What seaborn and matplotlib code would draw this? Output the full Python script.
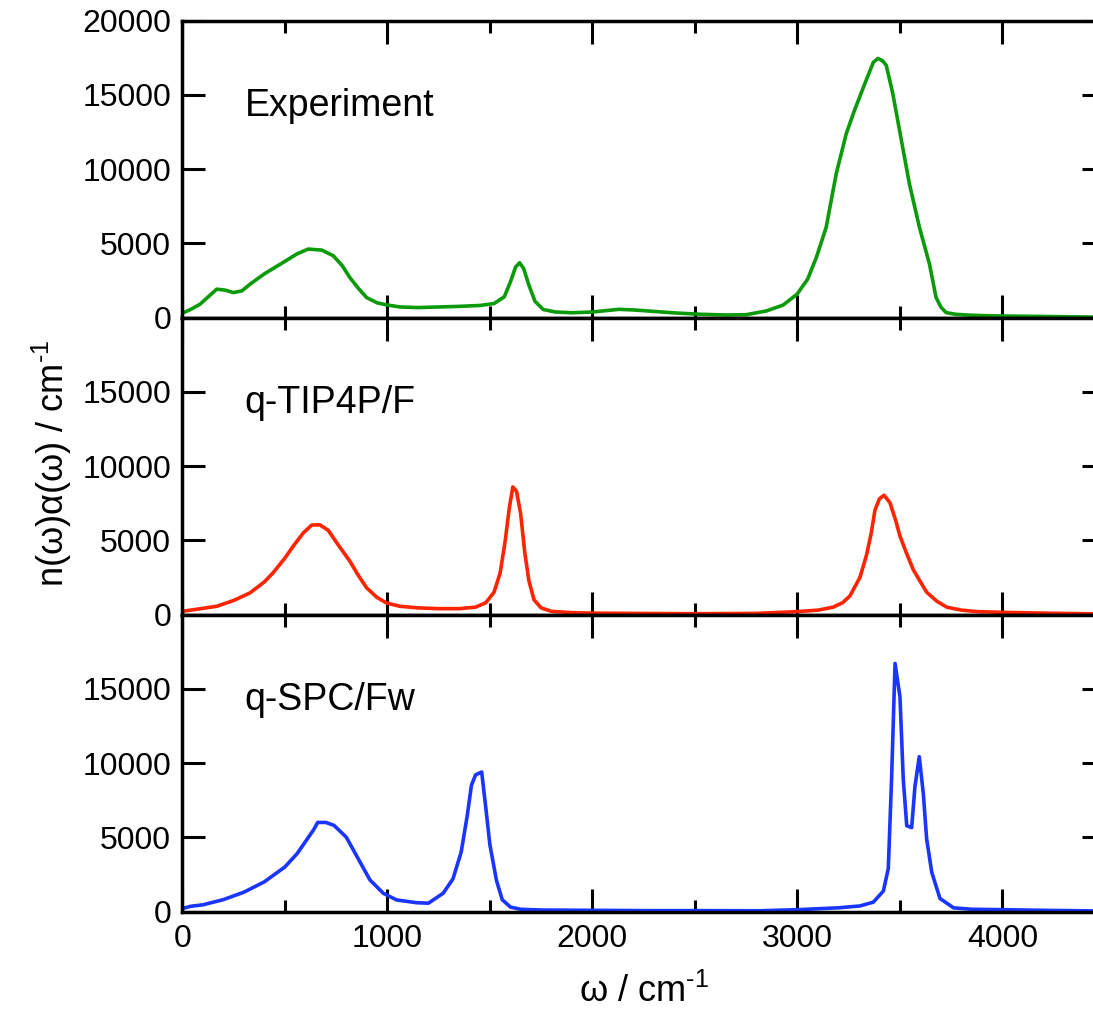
import matplotlib
matplotlib.use("Agg")
import pandas as pd
import seaborn as sns
import matplotlib.pyplot as plt
from matplotlib.ticker import MultipleLocator

# frequency (cm^-1) / intensity
exp_x = [0, 40, 86, 130, 168, 210, 249, 290, 330, 400,
         492, 560, 614, 680, 736, 780, 817, 860, 899, 950,
         996, 1061, 1150, 1250, 1350, 1450, 1520, 1570, 1600, 1625,
         1645, 1665, 1690, 1720, 1760, 1820, 1900, 2000, 2070, 2130,
         2200, 2300, 2400, 2523, 2650, 2750, 2848, 2930, 2998, 3050,
         3092, 3140, 3189, 3238, 3278, 3335, 3370, 3393, 3415, 3433,
         3465, 3498, 3546, 3595, 3644, 3676, 3700, 3725, 3770, 3822,
         3900, 4000, 4200, 4438, 4500]
exp_y = [300, 550, 900, 1450, 1920, 1850, 1690, 1800, 2250, 2950,
         3720, 4300, 4620, 4550, 4170, 3500, 2700, 1950, 1350, 1000,
         860, 720, 680, 720, 760, 820, 950, 1400, 2400, 3400,
         3700, 3300, 2200, 1100, 550, 380, 330, 380, 480, 560,
         520, 420, 320, 230, 180, 200, 450, 850, 1580, 2600,
         4050, 6080, 9690, 12390, 13960, 15990, 17200, 17460, 17300, 17000,
         15090, 12610, 9010, 6080, 3600, 1350, 700, 340, 230, 180,
         140, 110, 80, 40, 30]

tip4p_x = [0, 80, 168, 250, 330, 400, 443, 500, 541, 590,
           631, 670, 712, 760, 817, 860, 899, 950, 996, 1061,
           1150, 1250, 1350, 1430, 1480, 1520, 1550, 1575, 1595, 1612,
           1630, 1650, 1670, 1690, 1715, 1750, 1800, 1900, 2000, 2200,
           2500, 2800, 3000, 3100, 3174, 3220, 3256, 3305, 3337, 3360,
           3378, 3400, 3422, 3451, 3480, 3500, 3530, 3565, 3600, 3630,
           3680, 3728, 3800, 3875, 4000, 4200, 4443, 4500]
tip4p_y = [220, 380, 560, 950, 1460, 2200, 2820, 3800, 4610, 5500,
           6030, 6050, 5670, 4700, 3600, 2600, 1800, 1150, 780, 560,
           450, 400, 400, 500, 800, 1500, 2800, 5000, 7200, 8600,
           8300, 6800, 4200, 2300, 1000, 450, 220, 130, 100, 80,
           60, 80, 200, 300, 500, 800, 1260, 2510, 4020, 5500,
           7040, 7800, 8040, 7540, 6300, 5280, 4200, 3020, 2200, 1510,
           900, 500, 300, 200, 150, 100, 50, 40]

spc_x = [0, 40, 100, 200, 300, 400, 500, 560, 600, 640,
         660, 700, 740, 800, 860, 915, 980, 1045, 1142, 1200,
         1272, 1320, 1360, 1390, 1410, 1430, 1460, 1480, 1500, 1532,
         1560, 1600, 1650, 1750, 2000, 2250, 2500, 2816, 3000, 3200,
         3305, 3370, 3419, 3443, 3459, 3476, 3500, 3516, 3533, 3557,
         3573, 3594, 3614, 3630, 3655, 3695, 3761, 3850, 4000, 4200,
         4450, 4500]
spc_y = [200, 350, 450, 800, 1300, 2000, 3000, 3900, 4700, 5500,
         6000, 6000, 5800, 5000, 3500, 2130, 1230, 780, 595, 560,
         1230, 2200, 4000, 6500, 8500, 9200, 9400, 7000, 4500, 2100,
         800, 300, 150, 100, 80, 60, 60, 50, 125, 250,
         375, 630, 1380, 2890, 8920, 16710, 14450, 8920, 5780, 5650,
         8420, 10430, 7910, 4900, 2640, 880, 250, 150, 125, 80,
         40, 30]

panels = [
    ("Experiment", exp_x, exp_y, "#0a9a0a"),
    ("q-TIP4P/F", tip4p_x, tip4p_y, "#ff2400"),
    ("q-SPC/Fw", spc_x, spc_y, "#1a35ff"),
]


def main():
    sns.set_style("ticks")
    plt.rcParams["font.family"] = ["Liberation Sans", "DejaVu Sans"]
    plt.rcParams["mathtext.fontset"] = "custom"
    plt.rcParams["mathtext.rm"] = "Liberation Sans"
    plt.rcParams["mathtext.it"] = "Liberation Sans"
    plt.rcParams["text.color"] = "black"
    plt.rcParams["axes.labelcolor"] = "black"

    fig, axes = plt.subplots(3, 1, figsize=(10.93, 10.11), dpi=100, sharex=True)
    fig.subplots_adjust(left=0.1668, right=1.011, top=0.9795, bottom=0.0984, hspace=0)

    for i, (name, xs, ys, color) in enumerate(panels):
        ax = axes[i]
        df = pd.DataFrame({"omega": xs, "intensity": ys})
        sns.lineplot(data=df, x="omega", y="intensity", ax=ax, color=color,
                     linewidth=2.6, estimator=None, sort=False)
        ax.set_xlim(0, 4500)
        ax.set_ylim(0, 20000)
        ax.set_xlabel("")
        ax.set_ylabel("")
        if i == 0:
            ax.set_yticks([0, 5000, 10000, 15000, 20000])
        else:
            ax.set_yticks([0, 5000, 10000, 15000])
        ax.xaxis.set_major_locator(MultipleLocator(1000))
        ax.xaxis.set_minor_locator(MultipleLocator(500))
        ax.tick_params(which="both", direction="in", top=True, right=True,
                       width=2.2, colors="black", labelsize=23)
        ax.tick_params(which="major", length=16.5)
        ax.tick_params(which="minor", length=8.3)
        ax.tick_params(axis="x", pad=9)
        ax.tick_params(axis="y", pad=8)
        for sp in ax.spines.values():
            sp.set_linewidth(2.5)
            sp.set_color("black")
        ax.text(305, 13600, name, fontsize=27, va="baseline", color="black")

    axes[2].set_xlabel(r"ω / cm$^{\text{-}1}$", fontsize=26, labelpad=14)
    fig.text(52 / 1093, 1 - 463 / 1011, r"n(ω)α(ω) / cm$^{\text{-}1}$", rotation=90,
             ha="center", va="center", fontsize=26)

    fig.savefig("out.png", dpi=100)


if __name__ == "__main__":
    main()
